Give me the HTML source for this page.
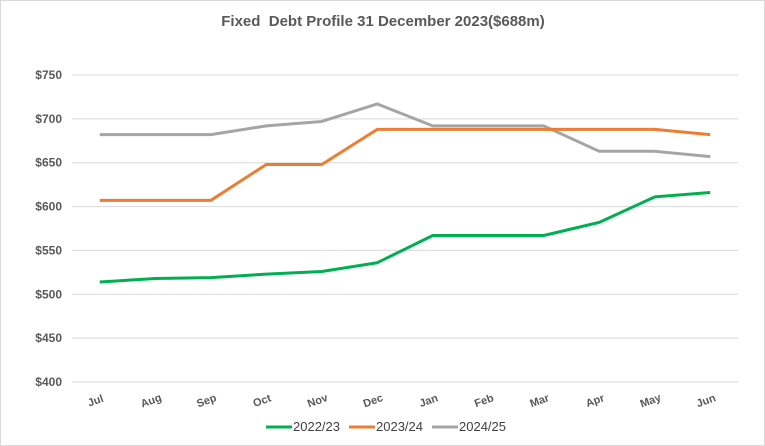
<!DOCTYPE html>
<html><head><meta charset="utf-8"><style>
body{margin:0;background:#fff;}
svg{display:block;font-family:"Liberation Sans",sans-serif;}
</style></head><body>
<svg id="chart" width="765" height="446">
<rect x="0.5" y="0.5" width="764" height="445" fill="#fff" stroke="#d9d9d9"/>
<text x="383" y="26" text-anchor="middle" font-size="15" font-weight="bold" fill="#595959" xml:space="preserve">Fixed  Debt Profile 31 December 2023($688m)</text>
<g id="grid"></g><g id="series"></g><g id="xlabels"></g>
<g>
<line x1="266" y1="427" x2="292" y2="427" stroke="#00b050" stroke-width="3"/>
<text x="293" y="431" font-size="13" fill="#404040">2022/23</text>
<line x1="349" y1="427" x2="375" y2="427" stroke="#ed7d31" stroke-width="3"/>
<text x="376" y="431" font-size="13" fill="#404040">2023/24</text>
<line x1="432" y1="427" x2="458" y2="427" stroke="#a5a5a5" stroke-width="3"/>
<text x="459" y="431" font-size="13" fill="#404040">2024/25</text>
</g>
</svg>
<script>
const categories=["Jul","Aug","Sep","Oct","Nov","Dec","Jan","Feb","Mar","Apr","May","Jun"];
const s2223=[514,518,519,523,526,536,567,567,567,582,611,616];
const s2324=[607,607,607,648,648,688,688,688,688,688,688,682];
const s2425=[682,682,682,692,697,717,692,692,692,663,663,657];
const yTicks=[400,450,500,550,600,650,700,750];
const NS="http://www.w3.org/2000/svg";
const x0=72,x1=738,yTop=75,yBot=382,vMin=400,vMax=750;
const step=(x1-x0)/categories.length;
function xs(i){return x0+step*(i+0.5);}
function ys(v){return yBot-(v-vMin)/(vMax-vMin)*(yBot-yTop);}
const grid=document.getElementById('grid');
yTicks.forEach(t=>{
 const l=document.createElementNS(NS,'line');
 l.setAttribute('x1',x0);l.setAttribute('x2',x1);l.setAttribute('y1',ys(t));l.setAttribute('y2',ys(t));
 l.setAttribute('stroke','#d9d9d9');l.setAttribute('stroke-width','1');
 
 
 grid.appendChild(l);
 const tx=document.createElementNS(NS,'text');
 tx.setAttribute('x',62);tx.setAttribute('y',ys(t)+4);tx.setAttribute('text-anchor','end');
 tx.setAttribute('font-size','12');tx.setAttribute('font-weight','bold');tx.setAttribute('fill','#595959');
 tx.textContent='$'+t;
 
 
 grid.appendChild(tx);
});
const xl=document.getElementById('xlabels');
categories.forEach((c,i)=>{
 const tx=document.createElementNS(NS,'text');
 const x=xs(i)-3,y=404;
 tx.setAttribute('x',x);tx.setAttribute('y',y);tx.setAttribute('text-anchor','middle');
 tx.setAttribute('transform','rotate(-20 '+x+' '+y+')');
 tx.setAttribute('font-size','11');tx.setAttribute('font-weight','bold');tx.setAttribute('fill','#595959');
 tx.textContent=c;
 
 
 xl.appendChild(tx);
});
const sg=document.getElementById('series');
[[s2425,'#a5a5a5','2024-25'],[s2324,'#ed7d31','2023-24'],[s2223,'#00b050','2022-23']].forEach(([d,col,n])=>{
 const p=document.createElementNS(NS,'polyline');
 p.setAttribute('points',d.map((v,i)=>xs(i)+','+ys(v)).join(' '));
 p.setAttribute('fill','none');p.setAttribute('stroke',col);p.setAttribute('stroke-width','3');
 p.setAttribute('stroke-linejoin','round');
 
 
 sg.appendChild(p);
});
</script>
</body></html>
